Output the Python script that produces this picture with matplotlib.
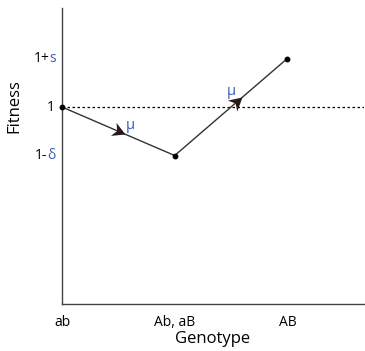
import numpy as np
import matplotlib.pyplot as plt
from matplotlib.path import Path

# genotypes along the x axis and their fitness
genotypes = ['ab', 'Ab, aB', 'AB']
fitness = [1.0, 0.5, 1.5]
# y tick labels: black part, blue part
ytick_vals = [1.5, 1.0, 0.5]
ytick_black = ['1+', '1', '1-']
ytick_blue = ['s', '', 'δ']
# where the mutation arrowheads sit (x in genotype units) and the mu labels
arrow_x = [0.56, 1.6]
mu_x = [0.61, 1.5]
mu_y = [0.81, 1.165]

blue = '#3d5cb8'
line_col = '#333333'
head_col = '#2b1818'

plt.rcParams['font.family'] = ['Open Sans', 'DejaVu Sans']

fig = plt.figure(figsize=(3.65, 3.51), dpi=100)
ax = fig.add_axes([0.170, 0.134, 0.827, 0.843])
ax.set_xlim(0, 2.68)
ax.set_ylim(-1.03, 2.02)

xs = list(range(len(genotypes)))
ax.plot(xs, fitness, color=line_col, lw=1.0, marker='o', ms=3.2,
        mfc='black', mec='black', zorder=3, clip_on=False)
ax.axhline(1.0, color='black', lw=0.9, ls=(0, (2, 2)), zorder=1)


def head_marker(angle):
    # swept arrowhead with its tip at the origin, rotated to the line angle
    pts = np.array([[0, 0], [-1.0, 0.55], [-0.7, 0], [-1.0, -0.55], [0, 0]])
    c, s = np.cos(angle), np.sin(angle)
    rot = pts @ np.array([[c, s], [-s, c]])
    codes = [Path.MOVETO, Path.LINETO, Path.LINETO, Path.LINETO, Path.CLOSEPOLY]
    return Path(rot, codes)


fig.canvas.draw()
for i, xa in enumerate(arrow_x):
    x0, x1 = xs[i], xs[i + 1]
    y0, y1 = fitness[i], fitness[i + 1]
    ya = y0 + (xa - x0) / (x1 - x0) * (y1 - y0)
    p0 = ax.transData.transform((x0, y0))
    p1 = ax.transData.transform((x1, y1))
    ang = np.arctan2(p1[1] - p0[1], p1[0] - p0[0])
    ax.plot(xa, ya, marker=head_marker(ang), ms=21,
            color=head_col, mew=0, zorder=4, ls='none')

for mx, my in zip(mu_x, mu_y):
    ax.text(mx, my, 'μ', color=blue, fontsize=10.5, ha='center', va='center')

for s in ['top', 'right']:
    ax.spines[s].set_visible(False)
for s in ['left', 'bottom']:
    ax.spines[s].set_color('#444444')
    ax.spines[s].set_linewidth(1.0)

ax.set_xticks(xs)
ax.set_xticklabels(genotypes, fontsize=10)
ax.tick_params(axis='x', length=0, pad=8)
ax.set_yticks([])

# y tick labels with blue symbols
for v, b, c in zip(ytick_vals, ytick_black, ytick_blue):
    if c:
        t_blue = ax.annotate(c, xy=(0, v), xycoords=('axes fraction', 'data'),
                             xytext=(-4.5, 0), textcoords='offset points',
                             ha='right', va='center', color=blue, fontsize=10)
        ax.annotate(b, xy=(0, 0.5), xycoords=t_blue, ha='right', va='center',
                    color='black', fontsize=10)
    else:
        ax.annotate(b, xy=(0, v), xycoords=('axes fraction', 'data'),
                    xytext=(-5.5, 0), textcoords='offset points',
                    ha='right', va='center', color='black', fontsize=10)

ax.set_xlabel('Genotype', fontsize=12, labelpad=1)
ax.set_ylabel('Fitness', fontsize=12)
ax.yaxis.set_label_coords(-0.132, 0.67)

fig.savefig('out.png', dpi=100)
